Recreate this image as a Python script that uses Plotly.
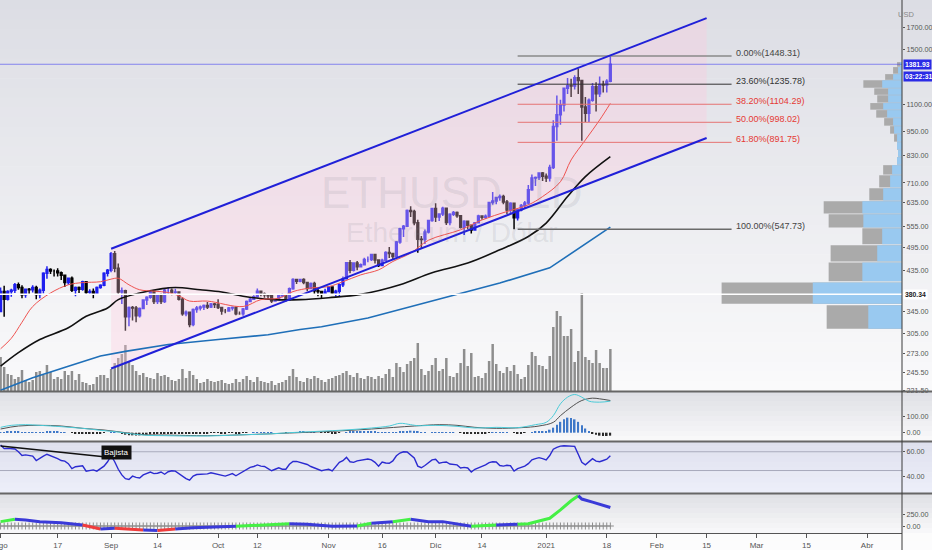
import numpy as np
import pandas as pd
import plotly.graph_objects as go

W, H = 932, 550
PLOT_R = 902  # left edge of the price scale, px

# ---------------- daily ETHUSD candles ----------------
dates = pd.date_range("2020-08-01", "2021-01-19", freq="D")
first_open = 345.0
closes = [
    386, 370, 386, 389, 401, 395, 379, 391, 390, 395, 380, 389, 428, 437, 433, 433, 429, 423, 406, 416, 389, 395, 391, 408, 384, 386, 382, 395, 400, 428, 435,
    477, 440, 385, 388, 335, 353, 352, 337, 351, 368, 374, 387, 365, 377, 365, 389, 389, 384, 385, 370, 341, 344, 321, 349, 352, 354, 357, 354, 360, 359,
    353, 346, 346, 352, 353, 341, 341, 350, 365, 370, 375, 387, 381, 379, 377, 366, 368, 377, 379, 369, 392, 413, 409, 413, 406, 393, 404, 388, 386, 382, 386,
    396, 383, 387, 401, 415, 454, 435, 453, 444, 449, 462, 462, 475, 461, 447, 460, 481, 478, 470, 510, 549, 557, 608, 605, 568, 518, 517, 539, 575, 615,
    587, 597, 616, 569, 596, 602, 591, 554, 573, 560, 545, 568, 590, 586, 589, 636, 642, 654, 658, 638, 610, 634, 584, 611, 626, 635, 684, 730, 732, 751, 737,
    730, 774, 975, 1041, 1100, 1208, 1225, 1224, 1281, 1262, 1088, 1050, 1130, 1219, 1171, 1233, 1230, 1257, 1381.93,
]
highs = [
    395, 399, 389, 392, 405, 406, 400, 393, 394, 400, 399, 393, 430, 445, 440, 437, 440, 432, 425, 418, 420, 397, 397, 410, 409, 391, 393, 397, 402, 430, 438,
    482, 485, 452, 395, 390, 355, 356, 356, 353, 370, 376, 389, 388, 380, 382, 392, 396, 393, 392, 386, 374, 347, 345, 351, 356, 357, 359, 364, 362, 362,
    370, 354, 350, 354, 355, 355, 345, 352, 367, 374, 378, 393, 388, 384, 380, 378, 370, 379, 382, 381, 395, 416, 415, 415, 416, 407, 406, 408, 394, 387, 392,
    398, 398, 390, 404, 420, 456, 461, 455, 458, 452, 467, 470, 477, 476, 462, 464, 484, 496, 480, 513, 552, 561, 612, 623, 611, 578, 527, 547, 577, 617,
    634, 599, 621, 619, 599, 607, 605, 593, 576, 574, 561, 570, 594, 592, 595, 637, 675, 656, 666, 665, 645, 637, 634, 614, 631, 642, 702, 745, 736, 754, 755,
    749, 786, 1010, 1160, 1133, 1210, 1280, 1275, 1300, 1350, 1265, 1150, 1140, 1245, 1250, 1290, 1260, 1270, 1448.31,
]
lows = [
    344, 335, 367, 375, 383, 390, 372, 373, 380, 384, 370, 372, 382, 415, 426, 420, 420, 412, 396, 401, 385, 376, 383, 388, 380, 379, 372, 380, 392, 398, 420,
    430, 430, 380, 360, 310, 318, 328, 325, 334, 350, 358, 371, 360, 360, 360, 362, 380, 378, 380, 367, 337, 336, 316, 318, 343, 347, 348, 350, 352, 352,
    350, 339, 342, 345, 347, 338, 339, 337, 348, 364, 369, 373, 376, 373, 370, 362, 365, 367, 374, 365, 367, 390, 403, 407, 402, 387, 391, 381, 376, 372, 380,
    385, 380, 375, 376, 396, 413, 428, 432, 435, 442, 447, 455, 458, 452, 443, 445, 459, 466, 462, 470, 505, 524, 555, 587, 560, 480, 490, 504, 535, 571,
    570, 574, 590, 561, 560, 590, 584, 550, 530, 548, 535, 544, 566, 578, 580, 586, 628, 630, 643, 630, 597, 600, 548, 575, 606, 617, 628, 680, 698, 722, 718,
    714, 716, 768, 900, 985, 1060, 1170, 1150, 1200, 1170, 900, 1000, 1000, 1120, 1060, 1150, 1180, 1180, 1250,
]
opens = [first_open] + closes[:-1]
volume = [
    34, 24, 17, 16, 12, 14, 21, 11, 9, 11, 19, 20, 16, 26, 19, 12, 14, 12, 20, 16, 20, 11, 17, 9, 8, 6, 7, 14, 16, 16, 13,
    22, 28, 33, 37, 46, 30, 26, 20, 16, 18, 14, 13, 12, 18, 15, 16, 14, 11, 10, 12, 22, 13, 20, 16, 12, 8, 9, 12, 10, 9,
    10, 11, 8, 7, 8, 12, 9, 12, 15, 11, 9, 14, 10, 9, 8, 10, 6, 8, 9, 11, 15, 22, 14, 10, 9, 13, 12, 15, 13, 11, 9,
    12, 13, 15, 16, 18, 20, 16, 14, 18, 13, 12, 15, 14, 12, 15, 13, 17, 22, 14, 28, 24, 19, 27, 30, 33, 48, 22, 16, 20, 26,
    33, 20, 22, 33, 15, 14, 18, 28, 42, 25, 38, 14, 15, 13, 18, 30, 47, 27, 20, 18, 24, 20, 26, 17, 12, 14, 26, 39, 35, 26, 25,
    22, 35, 64, 80, 75, 55, 55, 62, 29, 40, 98, 34, 31, 28, 41, 28, 23, 23, 42,
]

# ---------------- moving averages ----------------
red_ma_dates = ["2020-08-01", "2020-08-04", "2020-08-07", "2020-08-10", "2020-08-15", "2020-08-20", "2020-08-24", "2020-08-29",
                "2020-09-01", "2020-09-03", "2020-09-06", "2020-09-09", "2020-09-13", "2020-09-17", "2020-09-20", "2020-09-23",
                "2020-09-28", "2020-10-08", "2020-10-13", "2020-10-18", "2020-10-22", "2020-10-27", "2020-11-01", "2020-11-05",
                "2020-11-10", "2020-11-15", "2020-11-19", "2020-11-24", "2020-11-29", "2020-12-08", "2020-12-14", "2020-12-21",
                "2020-12-27", "2020-12-31", "2021-01-05", "2021-01-08", "2021-01-12", "2021-01-16", "2021-01-19"]
red_ma = [280, 297, 325, 355, 383, 401, 406, 408, 414, 416, 401, 390, 387, 384, 377, 366, 366, 355, 369, 372, 386, 394, 397,
          408, 424, 436, 457, 479, 515, 546, 577, 605, 628, 658, 715, 808, 904, 1011, 1110]
black_ma_dates = ["2020-08-01", "2020-08-06", "2020-08-12", "2020-08-20", "2020-08-25", "2020-08-31", "2020-09-03", "2020-09-09",
                  "2020-09-15", "2020-09-19", "2020-09-26", "2020-10-02", "2020-10-08", "2020-10-17", "2020-10-24", "2020-11-01",
                  "2020-11-10", "2020-11-21", "2020-11-30", "2020-12-10", "2020-12-19", "2020-12-27", "2021-01-01", "2021-01-07",
                  "2021-01-12", "2021-01-19"]
black_ma = [254, 274, 295, 315, 336, 352, 369, 383, 392, 395, 390, 385, 376, 369, 369, 373, 380, 401, 429, 453, 488, 526, 567,
            658, 736, 823]
blue_ma_dates = ["2020-08-01", "2020-08-10", "2020-08-20", "2020-08-29", "2020-09-05", "2020-09-17", "2020-10-01", "2020-10-15",
                 "2020-10-24", "2020-10-30", "2020-11-12", "2020-11-30", "2020-12-19", "2021-01-02", "2021-01-11", "2021-01-19"]
blue_ma = [222, 238, 254, 269, 276, 287, 295, 303, 312, 317, 333, 366, 405, 441, 497, 554]

# ---------------- drawings ----------------
channel_dates = ["2020-09-01", "2021-02-15"]
channel_upper = [491, 1791]
channel_lower = [250.7, 914]
fib_dates = ["2020-12-24", "2021-02-22"]
fib_levels = [0.0, 0.236, 0.382, 0.5, 0.618, 1.0]
fib_prices = [1448.31, 1235.78, 1104.29, 998.02, 891.75, 547.73]
fib_line_colors = ["#8a8a8a", "#333333", "#e57373", "#e57373", "#e57373", "#6a6a6a"]
fib_text_colors = ["#444444", "#333333", "#e53935", "#e53935", "#e53935", "#444444"]
poc_price = 380.34
last_price = 1381.93
countdown = "03:22:31"

# ---------------- visible range volume profile ----------------
vp_edges = [312, 359, 408, 456, 502, 552, 597, 642, 691, 743, 786, 822, 855, 894, 935, 978, 1023, 1070, 1113, 1163, 1209,
            1265, 1309, 1362, 1400]
vp_total = [76, 182, 74, 72, 40, 74, 79, 33, 23, 19, 5, 4, 5, 8, 12, 18, 26, 32, 25, 28, 39, 17, 9, 5]
vp_up = [34, 90, 40, 25, 20, 39, 40, 19, 12, 10, 5, 4, 5, 5, 8, 9, 15, 19, 14, 14, 20, 9, 4, 2]

# ---------------- MACD ----------------
macd_dates = ["2020-08-01", "2020-08-04", "2020-08-08", "2020-08-12", "2020-08-18", "2020-08-24", "2020-08-30", "2020-09-02",
              "2020-09-07", "2020-09-11", "2020-09-16", "2020-09-22", "2020-09-28", "2020-10-04", "2020-10-09", "2020-10-15",
              "2020-10-21", "2020-10-27", "2020-11-02", "2020-11-07", "2020-11-13", "2020-11-18", "2020-11-21", "2020-11-24",
              "2020-11-26", "2020-12-01", "2020-12-07", "2020-12-12", "2020-12-18", "2020-12-24", "2020-12-29", "2021-01-01",
              "2021-01-03", "2021-01-05", "2021-01-07", "2021-01-09", "2021-01-11", "2021-01-13", "2021-01-16", "2021-01-19"]
macd_line = [32, 44, 48, 44, 36, 26, 12, 6, -8, -16, -18, -20, -20, -16, -12, -8, 0, 6, 12, 18, 28, 40, 56, 48, 42, 44, 38,
             28, 32, 30, 48, 62, 102, 173, 213, 229, 213, 189, 183, 189]
signal_dates = ["2020-08-01", "2020-08-06", "2020-08-12", "2020-08-18", "2020-08-24", "2020-08-30", "2020-09-05", "2020-09-10",
                "2020-09-16", "2020-09-28", "2020-10-09", "2020-10-21", "2020-11-02", "2020-11-13", "2020-11-25", "2020-12-02",
                "2020-12-07", "2020-12-12", "2020-12-18", "2020-12-25", "2020-12-30", "2021-01-03", "2021-01-05", "2021-01-08",
                "2021-01-11", "2021-01-14", "2021-01-16", "2021-01-19"]
signal_line = [22, 40, 44, 40, 26, 16, 0, -12, -14, -18, -12, -2, 8, 22, 40, 48, 44, 32, 26, 30, 40, 62, 102, 153, 193, 207,
               203, 193]
macd_hist = [
    3, 4, 5, 6, 6, 5, 4, 3, 3, 2, 2, 1, 3, 5, 6, 6, 5, 4, 2, 0, -1, -3, -4, -4, -3, -4, -5, -5, -4, -2, 0,
    3, 4, 0, -6, -12, -15, -16, -17, -16, -14, -12, -10, -9, -8, -8, -6, -5, -4, -4, -3, -4, -6, -8, -7, -6, -5, -4, -3, -2, -2,
    -2, -3, -3, -2, -2, -3, -3, -2, -1, 0, 1, 2, 3, 3, 2, 1, 0, 0, 0, -1, 0, 2, 4, 5, 5, 4, 3, 2, 0, -1, -2,
    -2, -3, -3, -2, 0, 3, 5, 6, 6, 6, 6, 6, 6, 5, 3, 2, 2, 3, 3, 3, 5, 8, 10, 12, 11, 8, 4, 1, 0, 2,
    3, 3, 4, 3, 2, 1, 0, -2, -3, -5, -6, -6, -5, -4, -3, -1, 1, 2, 3, 3, 2, 0, -2, -3, -3, -2, 0, 4, 7, 9, 10,
    10, 18, 30, 48, 65, 80, 90, 88, 80, 65, 45, 25, 8, -5, -12, -18, -20, -20, -18,
]

# ---------------- RSI ----------------
rsi = [
    65.4, 62.5, 62.7, 62.5, 62.2, 60, 57, 57.5, 57, 56.5, 53, 55, 56.5, 58, 57, 56, 54.5, 53, 52.5, 50.5,
    46.5, 48, 48.5, 48.8, 44.5, 45, 45.5, 44.5, 46.5, 48.5, 52, 56.8, 52, 46, 41.5, 38.5, 37.8, 40.5, 39.5, 39,
    41.5, 42.5, 43.8, 42.5, 42.8, 43.8, 42, 44, 44.8, 44.5, 42.5, 40, 38.5, 37.3, 40.5, 41.8, 42, 42.5, 42.3, 43.2,
    42.5, 42, 41, 40.5, 41.5, 42.5, 40.8, 42.5, 44, 46.3, 47.5, 48.2, 49.5, 48.5, 48.2, 46.5, 44.8, 46, 47.2, 46,
    46, 50, 52.2, 52.3, 51.5, 50.8, 49.8, 48.2, 47, 46, 44.8, 45.5, 46, 44.7, 48.5, 51.5, 52.8, 55.5, 52, 51.5,
    52.7, 53.2, 53.6, 54.2, 53.5, 51.5, 48.5, 51.8, 51, 50.8, 52.7, 56.8, 59, 60, 59.8, 57, 55, 48.5, 47.2, 49,
    51.5, 53.5, 54, 50.8, 51.5, 51.8, 50.2, 49.8, 49.5, 47, 47.5, 47, 43.8, 46, 47.2, 47.8, 49.5, 51.3, 52, 51.8,
    49, 48.5, 49.2, 48.8, 44.5, 46.5, 47.4, 48.5, 50.5, 53.5, 54.5, 55.3, 54.5, 53.5, 57, 62, 63.5, 64.5, 64.8, 64.5,
    64.3, 64.3, 58, 51.5, 49.5, 52, 54.5, 52.5, 52, 53, 54, 56.8,
]
rsi_bands = [60, 45]
bear_line_dates = ["2020-08-01", "2020-09-01"]
bear_line_vals = [64.6, 55.5]

# ---------------- bottom oscillator ----------------
osc_dates = ["2020-08-01", "2020-08-05", "2020-08-08", "2020-08-12", "2020-08-18", "2020-08-24", "2020-08-29", "2020-09-02",
             "2020-09-07", "2020-09-10", "2020-09-14", "2020-09-19", "2020-09-24", "2020-09-30", "2020-10-06", "2020-10-09",
             "2020-10-15", "2020-10-21", "2020-10-26", "2020-11-02", "2020-11-09", "2020-11-13", "2020-11-19", "2020-11-24",
             "2020-11-29", "2020-12-03", "2020-12-08", "2020-12-11", "2020-12-18", "2020-12-24", "2020-12-27", "2020-12-30",
             "2021-01-02", "2021-01-05", "2021-01-08", "2021-01-10", "2021-01-11", "2021-01-14", "2021-01-19"]
osc_vals = [95, 146, 132, 95, 73, 22, -66, -51, -66, -88, -95, -66, -37, -22, -7, 7, 22, 51, 37, -7, 0, 59, 95, 146, 95, 95,
            22, -7, 22, 37, 51, 110, 168, 351, 549, 659, 586, 520, 403]
osc_trend = list("gbbbbrbrrbrbbbgggbbbgbgbbbbgbggggggbbb")  # colour of each segment

# ---------------- styling ----------------
FONT = "Liberation Sans Narrow, Liberation Sans, Roboto, sans-serif"
BLUE = "#1f1fef"
trend_colors = {"g": "#45f045", "b": "#3a3ad8", "r": "#f03c3c"}
x_range = ["2020-07-31 20:00", "2021-04-10 19:00"]
main_range = [np.log10(221.0), np.log10(1982)]
DAY_MS = 86400000


def py(px):
    return 1 - px / H


panes = {"main": (0, 391), "macd": (392, 441), "rsi": (442, 493), "osc": (494, 533)}
dom = {k: [py(b), py(t)] for k, (t, b) in panes.items()}
xdom = [0, PLOT_R / W]

fig = go.Figure()

# volume (base subplot of the price pane)
fig.add_trace(go.Bar(x=dates, y=volume, width=0.7 * DAY_MS, marker=dict(color="#8e8e8e", line_width=0),
                     xaxis="x", yaxis="y"))

# channel fill + MAs + fib + candles on the log price axis
fig.add_trace(go.Scatter(x=channel_dates + channel_dates[::-1], y=channel_upper + channel_lower[::-1],
                         fill="toself", fillcolor="rgba(255,200,222,0.32)", line_width=0, mode="lines",
                         xaxis="x", yaxis="y5"))
fig.add_trace(go.Scatter(x=blue_ma_dates, y=blue_ma, mode="lines", line=dict(color="#1f6fb8", width=1.6),
                         xaxis="x", yaxis="y5"))
fig.add_trace(go.Scatter(x=black_ma_dates, y=black_ma, mode="lines", line=dict(color="#111111", width=1.6, shape="spline"),
                         xaxis="x", yaxis="y5"))
fig.add_trace(go.Scatter(x=red_ma_dates, y=red_ma, mode="lines", line=dict(color="#ef5350", width=1, shape="spline"),
                         xaxis="x", yaxis="y5"))
for p, c, lvl in zip(fib_prices, fib_line_colors, fib_levels):
    fig.add_trace(go.Scatter(x=fib_dates, y=[p, p], mode="lines",
                             line=dict(color=c, width=1.5 if lvl in (0.0, 1.0) else 1),
                             xaxis="x", yaxis="y5"))
fig.add_trace(go.Candlestick(x=dates, open=opens, high=highs, low=lows, close=closes, whiskerwidth=0,
                             increasing=dict(line=dict(color=BLUE, width=1.5), fillcolor=BLUE),
                             decreasing=dict(line=dict(color="#000000", width=1.5), fillcolor="#000000"),
                             xaxis="x", yaxis="y5"))
fig.add_trace(go.Scatter(x=channel_dates, y=channel_upper, mode="lines", line=dict(color="#2020d8", width=2),
                         xaxis="x", yaxis="y5"))
fig.add_trace(go.Scatter(x=channel_dates, y=channel_lower, mode="lines", line=dict(color="#2020d8", width=2),
                         xaxis="x", yaxis="y5"))

# volume profile, drawn on a linear log10 overlay
lo = np.log10(vp_edges[:-1])
hi = np.log10(vp_edges[1:])
fig.add_trace(go.Bar(x=vp_total, y=(lo + hi) / 2, width=(hi - lo) * 0.94, orientation="h", base=0,
                     marker=dict(color="#aaaaaa", line_width=0), xaxis="x5", yaxis="y6"))
fig.add_trace(go.Bar(x=vp_up, y=(lo + hi) / 2, width=(hi - lo) * 0.94, orientation="h", base=0,
                     marker=dict(color="#99c9f0", line_width=0), xaxis="x5", yaxis="y6"))
vp_span = [max(vp_total) / 0.2, 0]
fig.add_trace(go.Scatter(x=vp_span, y=[np.log10(poc_price)] * 2, mode="lines", line=dict(color="white", width=1.5),
                         xaxis="x5", yaxis="y6"))
fig.add_trace(go.Scatter(x=vp_span, y=[np.log10(last_price)] * 2, mode="lines",
                         line=dict(color="rgba(60,60,240,0.7)", width=0.8), xaxis="x5", yaxis="y6"))

# MACD pane
fig.add_trace(go.Bar(x=dates, y=macd_hist, width=0.45 * DAY_MS,
                     marker=dict(color=["#3f78c8" if v >= 0 else "#2a2a2a" for v in macd_hist], line_width=0),
                     xaxis="x2", yaxis="y2"))
fig.add_trace(go.Scatter(x=signal_dates, y=signal_line, mode="lines", line=dict(color="#505050", width=1, shape="spline"),
                         xaxis="x2", yaxis="y2"))
fig.add_trace(go.Scatter(x=macd_dates, y=macd_line, mode="lines", line=dict(color="#4ccbd8", width=1, shape="spline"),
                         xaxis="x2", yaxis="y2"))

# RSI pane
for b in rsi_bands:
    fig.add_trace(go.Scatter(x=x_range, y=[b, b], mode="lines", line=dict(color="#a9abbd", width=1),
                             xaxis="x3", yaxis="y3"))
fig.add_trace(go.Scatter(x=dates, y=rsi, mode="lines", line=dict(color="#2b2bd0", width=1.4), xaxis="x3", yaxis="y3"))
fig.add_trace(go.Scatter(x=bear_line_dates, y=bear_line_vals, mode="lines", line=dict(color="#111111", width=1.5),
                         xaxis="x3", yaxis="y3"))

# bottom oscillator pane
fig.add_trace(go.Scatter(x=dates, y=np.zeros(len(dates)), mode="markers",
                         marker=dict(symbol="cross-thin", size=5, line=dict(color="#8c8c8c", width=1)),
                         xaxis="x4", yaxis="y4"))
i = 0
while i < len(osc_trend):
    j = i
    while j + 1 < len(osc_trend) and osc_trend[j + 1] == osc_trend[i]:
        j += 1
    fig.add_trace(go.Scatter(x=osc_dates[i:j + 2], y=osc_vals[i:j + 2], mode="lines",
                             line=dict(color=trend_colors[osc_trend[i]], width=3), xaxis="x4", yaxis="y4"))
    i = j + 1

# ---------------- backgrounds ----------------
def add_gradient(top_px, bot_px, c_top, c_bot, n):
    for k in range(n):
        t = (k + 0.5) / n
        c = [round(a + (b - a) * t) for a, b in zip(c_top, c_bot)]
        y_a = top_px + (bot_px - top_px) * k / n
        y_b = top_px + (bot_px - top_px) * (k + 1) / n + 0.6
        fig.add_shape(type="rect", xref="paper", yref="paper", x0=0, x1=1, y0=py(y_b), y1=py(y_a),
                      fillcolor=f"rgb({c[0]},{c[1]},{c[2]})", line_width=0, layer="below")


add_gradient(0, 391, (220, 221, 228), (250, 250, 251), 40)
add_gradient(391, 441, (222, 223, 229), (249, 249, 250), 10)
add_gradient(441, 493, (222, 224, 237), (237, 239, 250), 10)
add_gradient(493, 533, (222, 223, 228), (249, 249, 250), 8)
add_gradient(533, 550, (251, 251, 252), (253, 253, 253), 2)

for sep in (391.5, 441.5, 493.5):
    fig.add_shape(type="line", xref="paper", yref="paper", x0=0, x1=1, y0=py(sep), y1=py(sep),
                  line=dict(color="#666666", width=2))
fig.add_shape(type="line", xref="paper", yref="paper", x0=xdom[1], x1=xdom[1], y0=0, y1=1,
              line=dict(color="#3a3a3a", width=1))

# ---------------- annotations ----------------
ann = []
ann.append(dict(x=0.485, y=py(166), xref="paper", yref="paper", text="ETHUSD, 1D", showarrow=False,
                font=dict(family=FONT, size=44, color="rgba(120,123,134,0.15)")))
ann.append(dict(x=0.485, y=py(233), xref="paper", yref="paper", text="Ethereum / Dólar", showarrow=False,
                font=dict(family=FONT, size=28, color="rgba(120,123,134,0.15)")))
for lvl, p, c in zip(fib_levels, fib_prices, fib_text_colors):
    ann.append(dict(x="2021-02-22 18:00", y=np.log10(p), xref="x", yref="y5", text=f"{lvl * 100:.2f}%({p:.2f})",
                    showarrow=False, xanchor="left", yanchor="middle", yshift=3,
                    font=dict(family=FONT, size=9, color=c)))
ax_x = xdom[1] + 0.5 / W
small = dict(family=FONT, size=6.8)
ann.append(dict(x=ax_x, y=np.log10(last_price), xref="paper", yref="y5", text=f"<b>{last_price:.2f}</b>",
                showarrow=False, xanchor="left", yanchor="middle", bgcolor="#2b2be6", borderpad=1,
                font=dict(small, color="white")))
ann.append(dict(x=ax_x, y=np.log10(last_price), xref="paper", yref="y5", text=f"<b>{countdown}</b>",
                showarrow=False, xanchor="left", yanchor="middle", yshift=-12, bgcolor="#2b2be6", borderpad=1,
                font=dict(small, color="white")))
ann.append(dict(x=ax_x, y=np.log10(poc_price), xref="paper", yref="y5", text=f"<b>{poc_price:.2f}</b>",
                showarrow=False, xanchor="left", yanchor="middle", bgcolor="white", borderpad=1,
                font=dict(small, color="#222222")))
ann.append(dict(x=xdom[1] + 14 / W, y=py(8), xref="paper", yref="paper", text="USD", showarrow=False,
                font=dict(family=FONT, size=7.5, color="#888888")))
ann.append(dict(x="2020-09-02 12:00", y=59.5, xref="x3", yref="y3", text="Bajista", showarrow=False,
                bgcolor="#111111", borderpad=2, font=dict(family=FONT, size=8, color="white")))

tickfont = dict(family=FONT, size=7.2, color="#555555")
yax = dict(side="right", showgrid=False, zeroline=False, ticks="outside", ticklen=2, tickcolor="#555555",
           tickfont=tickfont, tickformat=".2f", automargin=False, showline=False, ticklabeloverflow="allow")
xax = dict(type="date", range=x_range, showgrid=False, zeroline=False, automargin=False, domain=xdom)

price_ticks = [221.5, 245.5, 273, 305, 345, 435, 495, 555, 635, 710, 830, 950, 1100, 1500, 1700]
x_tickvals = ["2020-08-01", "2020-08-17", "2020-09-01", "2020-09-14", "2020-10-01", "2020-10-12", "2020-11-01",
              "2020-11-16", "2020-12-01", "2020-12-14", "2021-01-01", "2021-01-18", "2021-02-01", "2021-02-15",
              "2021-03-01", "2021-03-15", "2021-04-01"]
x_ticktext = ["Ago", "17", "Sep", "14", "Oct", "12", "Nov", "16", "Dic", "14", "2021", "18", "Feb", "15", "Mar", "15", "Abr"]

fig.update_layout(
    width=W, height=H, margin=dict(l=0, r=0, t=0, b=0, pad=0),
    paper_bgcolor="white", plot_bgcolor="rgba(0,0,0,0)",
    showlegend=False, hovermode=False, barmode="overlay", template="none",
    font=dict(family=FONT),
    annotations=ann,
    xaxis=dict(xax, anchor="y", showticklabels=False, rangeslider=dict(visible=False)),
    xaxis2=dict(xax, anchor="y2", matches="x", showticklabels=False),
    xaxis3=dict(xax, anchor="y3", matches="x", showticklabels=False),
    xaxis4=dict(xax, anchor="y4", matches="x", tickvals=x_tickvals, ticktext=x_ticktext,
                tickfont=dict(tickfont, size=8), ticklabeloverflow="allow",
                ticks="outside", ticklen=4, tickcolor="#555555", showline=True, linecolor="#555555", linewidth=1),
    xaxis5=dict(overlaying="x", range=vp_span, visible=False, anchor="y"),
    yaxis=dict(domain=dom["main"], range=[0, max(volume) * 3.99], visible=False),
    yaxis5=dict(yax, overlaying="y", type="log", range=main_range, tickvals=price_ticks, anchor="x"),
    yaxis6=dict(overlaying="y", range=main_range, visible=False, anchor="x5"),
    yaxis2=dict(yax, domain=dom["macd"], range=[-50, 244], tickvals=[0, 100], anchor="x2"),
    yaxis3=dict(yax, domain=dom["rsi"], range=[27, 67.8], tickvals=[40, 60], anchor="x3"),
    yaxis4=dict(yax, domain=dom["osc"], range=[-152, 696], tickvals=[0, 250], anchor="x4"),
)

fig.write_html("out.html", config={"displayModeBar": False},
               post_script="document.body.style.margin='0px';document.body.style.overflow='hidden';")
